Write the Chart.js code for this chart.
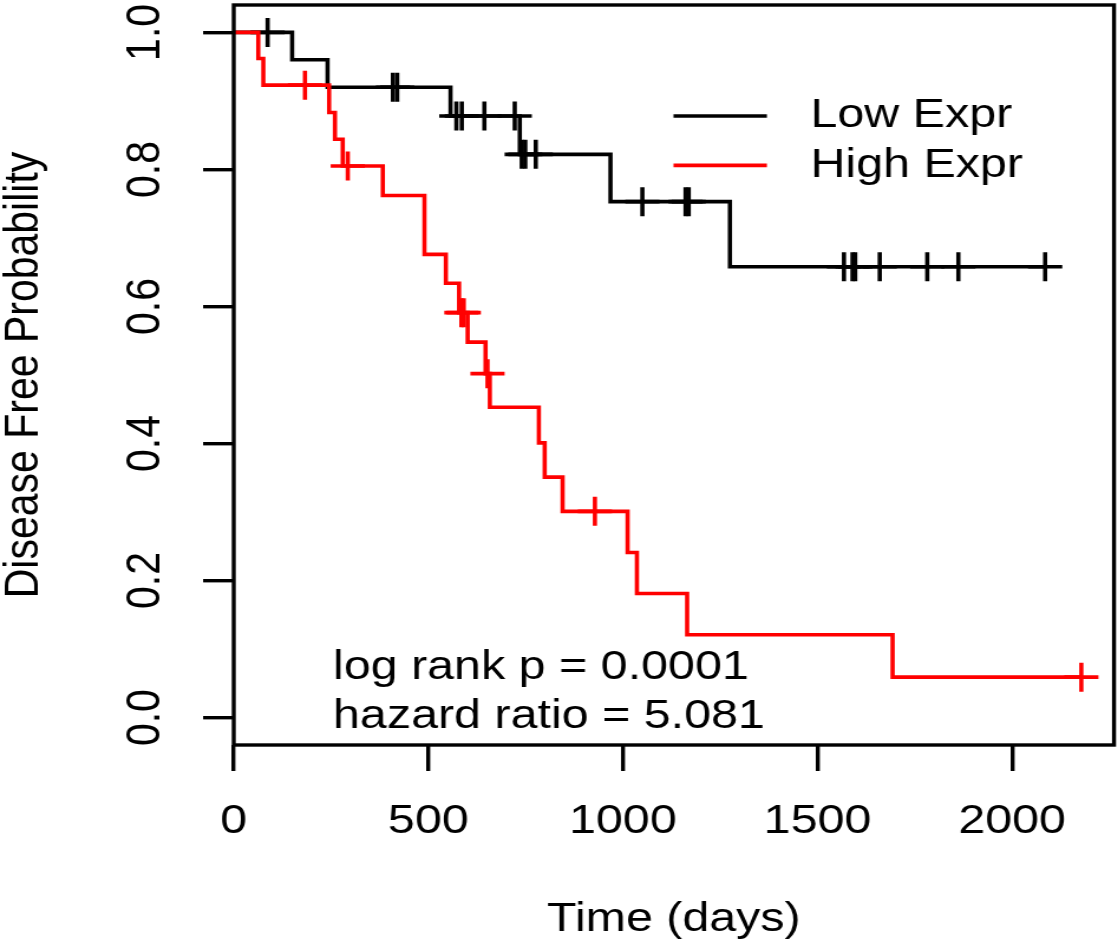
<!DOCTYPE html>
<html>
<head>
<meta charset="utf-8">
<script src="https://cdn.jsdelivr.net/npm/chart.js@4.4.1/dist/chart.umd.min.js"></script>
<style>
  html, body { margin: 0; padding: 0; background: #fff; overflow: hidden; }
  /* the reference is an R plot stretched sideways, so draw square and stretch */
  #plot { width: 947px; height: 947px; transform: scaleX(1.1806); transform-origin: 0 0; }
</style>
</head>
<body>
<div id="plot"><canvas id="km"></canvas></div>
<script>
// Low Expr curve (black): event times and survival after each step
const lowTimes = [0, 150, 241, 557, 735, 968, 1275, 2085];
const lowSurv = [1, 0.96, 0.92, 0.878, 0.822, 0.753, 0.658, 0.658];
const lowCensor = [87, 409, 420, 572, 586, 644, 722, 740, 749, 776, 1050, 1161, 1169, 1568, 1590, 1597, 1660, 1782, 1862, 2085];

// High Expr curve (red)
const highTimes = [0, 63, 76, 245, 260, 280, 383, 490, 545, 579, 601, 647, 658, 784, 799, 845, 1012, 1036, 1165, 1693, 2178];
const highSurv = [1, 0.962, 0.923, 0.883, 0.844, 0.805, 0.762, 0.676, 0.634, 0.591, 0.548, 0.502, 0.453, 0.401, 0.351, 0.301, 0.241, 0.181, 0.121, 0.059, 0.059];
const highCensor = [183, 293, 585, 591, 652, 928, 2178];

const seriesNames = ["Low Expr", "High Expr"];
const seriesColors = ["#000000", "#ff0000"];

const xTicks = [0, 500, 1000, 1500, 2000];
const xTickLabels = ["0", "500", "1000", "1500", "2000"];
const yTicks = [0, 0.2, 0.4, 0.6, 0.8, 1.0];
const yTickLabels = ["0.0", "0.2", "0.4", "0.6", "0.8", "1.0"];

const statsLines = ["log rank p = 0.0001", "hazard ratio = 5.081"];

const FONT = "'Liberation Sans', Arial, Helvetica, sans-serif";
const FSIZE = 41;
const LW = 3.6;

function stepPoints(times, surv) {
    return times.map((t, i) => ({ x: t, y: surv[i] }));
}
function survAt(times, surv, t) {
    let s = surv[0];
    for (let i = 0; i < times.length; i++) {
        if (times[i] <= t) s = surv[i];
    }
    return s;
}
function censorPoints(cens, times, surv) {
    return cens.map((t) => ({ x: t, y: survAt(times, surv, t) }));
}

const decor = {
    id: "decor",
    afterDraw(chart) {
        const { ctx, chartArea: a } = chart;
        const x = chart.scales.x;
        const y = chart.scales.y;
        ctx.save();
        // box round the plot
        ctx.strokeStyle = "#000";
        ctx.lineWidth = 3.4;
        ctx.strokeRect(a.left, a.top, a.right - a.left, a.bottom - a.top);

        ctx.fillStyle = "#000";
        ctx.font = `${FSIZE}px ${FONT}`;

        // y tick labels, turned like R does
        ctx.textAlign = "center";
        ctx.textBaseline = "middle";
        yTicks.forEach((v, i) => {
            ctx.save();
            ctx.translate(a.left - 74, y.getPixelForValue(v));
            ctx.rotate(-Math.PI / 2);
            ctx.fillText(yTickLabels[i], 0, 0);
            ctx.restore();
        });

        // legend inside the plot
        const legendY = [0.878, 0.806];
        seriesNames.forEach((name, i) => {
            const py = y.getPixelForValue(legendY[i]);
            ctx.strokeStyle = seriesColors[i];
            ctx.lineWidth = LW;
            ctx.beginPath();
            ctx.moveTo(x.getPixelForValue(1130), py);
            ctx.lineTo(x.getPixelForValue(1370), py);
            ctx.stroke();
            ctx.textAlign = "left";
            ctx.textBaseline = "middle";
            ctx.fillText(name, x.getPixelForValue(1482), py);
        });

        // test results
        const statsY = [0.057, -0.0146];
        ctx.textAlign = "left";
        ctx.textBaseline = "alphabetic";
        statsLines.forEach((line, i) => {
            ctx.fillText(line, x.getPixelForValue(255), y.getPixelForValue(statsY[i]));
        });
        ctx.restore();
    },
};

const ctx = document.getElementById("km");
new Chart(ctx, {
    type: "line",
    data: {
        datasets: [
            {
                label: seriesNames[1],
                data: stepPoints(highTimes, highSurv),
                stepped: "before",
                borderColor: seriesColors[1],
                borderWidth: LW,
                borderCapStyle: "butt",
                borderJoinStyle: "miter",
                pointRadius: 0,
                fill: false,
                order: 0,
            },
            {
                label: "High censored",
                data: censorPoints(highCensor, highTimes, highSurv),
                showLine: false,
                pointStyle: "cross",
                pointRadius: 14.5,
                pointBorderColor: seriesColors[1],
                pointBorderWidth: LW,
                order: 0,
            },
            {
                label: seriesNames[0],
                data: stepPoints(lowTimes, lowSurv),
                stepped: "before",
                borderColor: seriesColors[0],
                borderWidth: LW,
                borderCapStyle: "butt",
                borderJoinStyle: "miter",
                pointRadius: 0,
                fill: false,
                order: 1,
            },
            {
                label: "Low censored",
                data: censorPoints(lowCensor, lowTimes, lowSurv),
                showLine: false,
                pointStyle: "cross",
                pointRadius: 14.5,
                pointBorderColor: seriesColors[0],
                pointBorderWidth: LW,
                order: 1,
            },
        ],
    },
    options: {
        responsive: true,
        maintainAspectRatio: false,
        animation: false,
        events: [],
        layout: { autoPadding: false, padding: { top: 5, right: 3.4, left: 0, bottom: 0 } },
        plugins: {
            legend: { display: false },
            tooltip: { enabled: false },
        },
        scales: {
            x: {
                type: "linear",
                min: 0,
                max: 2262,
                afterBuildTicks: (s) => {
                    s.ticks = xTicks.map((v) => ({ value: v }));
                },
                afterFit: (s) => {
                    s.height = 202;
                },
                ticks: {
                    autoSkip: false,
                    maxRotation: 0,
                    padding: 26,
                    color: "#000",
                    font: { family: FONT, size: FSIZE, lineHeight: 1.2 },
                    callback: (v, i) => xTickLabels[i],
                },
                grid: {
                    drawOnChartArea: false,
                    drawTicks: true,
                    tickLength: 26,
                    color: "#000",
                    lineWidth: 3.4,
                },
                border: { display: false },
                title: {
                    display: true,
                    text: "Time (days)",
                    color: "#000",
                    font: { family: FONT, size: FSIZE, lineHeight: 1 },
                    padding: { top: 0, bottom: 6.5 },
                },
            },
            y: {
                type: "linear",
                min: -0.04,
                max: 1.04,
                afterBuildTicks: (s) => {
                    s.ticks = yTicks.map((v) => ({ value: v }));
                },
                afterFit: (s) => {
                    s.width = 198;
                },
                ticks: { display: false },
                grid: {
                    drawOnChartArea: false,
                    drawTicks: true,
                    tickLength: 26,
                    color: "#000",
                    lineWidth: 3.4,
                },
                border: { display: false },
                title: {
                    display: true,
                    text: "Disease Free Probability",
                    color: "#000",
                    font: { family: FONT, size: FSIZE, lineHeight: 1 },
                    padding: { top: 0.5, bottom: 0 },
                },
            },
        },
    },
    plugins: [decor],
});
</script>
</body>
</html>
